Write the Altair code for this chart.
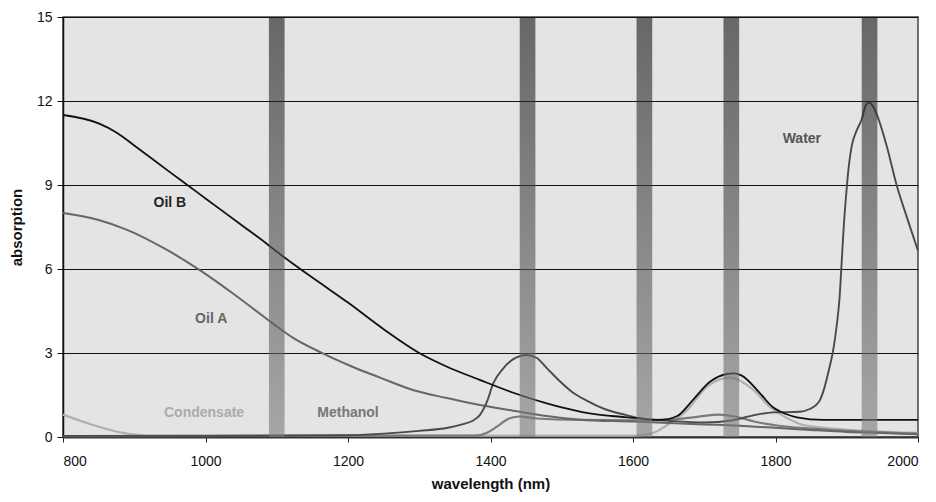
import altair as alt
import pandas as pd

# ---- data ----
oil_b_nm = [800, 850, 876, 900, 950, 974, 1000, 1050, 1088, 1100, 1133, 1161, 1200, 1250, 1300, 1339, 1385,
            1432, 1479, 1500, 1535, 1570, 1605, 1638, 1662, 1684, 1708, 1732, 1742, 1752, 1778, 1796, 1815, 1830,
            1867, 1950, 2000]
oil_b_val = [11.5, 11.2, 10.86, 10.41, 9.46, 9.01, 8.52, 7.58, 6.86, 6.62, 6.0, 5.5, 4.8, 3.85, 3.0, 2.51, 2.04,
             1.58, 1.2, 1.06, 0.86, 0.75, 0.68, 0.61, 0.75, 1.32, 1.97, 2.25, 2.27, 2.2, 1.57, 1.07, 0.82, 0.7,
             0.61, 0.61, 0.61]

oil_a_nm = [800, 850, 890, 946, 992, 1040, 1088, 1123, 1161, 1207, 1245, 1291, 1339, 1385, 1432, 1479, 1526,
            1600, 1650, 1700, 1750, 1800, 1850, 1900, 1950, 2000]
oil_a_val = [8.0, 7.75, 7.4, 6.68, 5.96, 5.1, 4.18, 3.54, 3.03, 2.5, 2.12, 1.68, 1.39, 1.14, 0.94, 0.75, 0.62,
             0.55, 0.5, 0.45, 0.4, 0.33, 0.25, 0.18, 0.14, 0.1]

water_nm = [800, 1000, 1200, 1250, 1300, 1340, 1360, 1375, 1385, 1395, 1404, 1418, 1432, 1451, 1465, 1479, 1497,
            1515, 1535, 1560, 1591, 1610, 1650, 1700, 1740, 1770, 1796, 1834, 1848, 1856, 1862, 1868, 1875, 1881,
            1886, 1890, 1893, 1896, 1900, 1903, 1907, 1914, 1921, 1926, 1931, 1937, 1944, 1956, 1970, 1985, 2000]
water_val = [0.04, 0.04, 0.06, 0.12, 0.22, 0.33, 0.45, 0.58, 0.78, 1.26, 1.92, 2.45, 2.78, 2.93, 2.82, 2.46, 2.0,
             1.6, 1.3, 1.0, 0.78, 0.66, 0.58, 0.52, 0.6, 0.78, 0.88, 0.9, 1.0, 1.12, 1.3, 1.7, 2.4, 3.1,
             4.0, 5.0, 6.3, 7.6, 8.9, 9.7, 10.4, 10.95, 11.35, 11.8, 11.95, 11.8, 11.4, 10.4, 9.0, 7.8, 6.65]

methanol_nm = [800, 1380, 1395, 1409, 1427, 1441, 1465, 1526, 1600, 1650, 1690, 1720, 1745, 1770, 1800, 1850,
               1900, 1950, 2000]
methanol_val = [0.03, 0.05, 0.15, 0.37, 0.67, 0.73, 0.66, 0.61, 0.6, 0.62, 0.72, 0.8, 0.72, 0.55, 0.42, 0.3,
                0.22, 0.17, 0.12]

condensate_nm = [800, 842, 884, 920, 1600, 1625, 1652, 1676, 1704, 1736, 1769, 1792, 1816, 1839, 1909, 2000]
condensate_val = [0.8, 0.43, 0.15, 0.05, 0.05, 0.12, 0.5, 0.96, 1.8, 2.12, 1.68, 1.08, 0.68, 0.43, 0.25, 0.15]

band_start = [1089, 1441, 1605, 1727, 1921]
band_end = [1111, 1463, 1627, 1749, 1943]

label_text = ["Oil B", "Oil A", "Condensate", "Methanol", "Water"]
label_nm = [950, 1008, 998, 1200, 1837]
label_val = [8.36, 4.2, 0.86, 0.86, 10.64]
label_color = ["#222222", "#666666", "#aaaaaa", "#777777", "#555555"]

series_names = ["Condensate", "Methanol", "Oil A", "Water", "Oil B"]
series_colors = ["#b0b0b0", "#7a7a7a", "#666666", "#4a4a4a", "#111111"]
series_widths = [2.2, 1.8, 1.8, 1.8, 2.0]

# ---- tables ----
rows = []
for name, xs, ys in [("Condensate", condensate_nm, condensate_val),
                     ("Methanol", methanol_nm, methanol_val),
                     ("Oil A", oil_a_nm, oil_a_val),
                     ("Water", water_nm, water_val),
                     ("Oil B", oil_b_nm, oil_b_val)]:
    for i, (x, y) in enumerate(zip(xs, ys)):
        rows.append({"series": name, "nm": x, "val": y, "order": i})
lines_df = pd.DataFrame(rows)

bands_df = pd.DataFrame({"x0": band_start, "x1": band_end, "y0": [0] * 5, "y1": [15] * 5})
labels_df = pd.DataFrame({"text": label_text, "nm": label_nm, "val": label_val, "color": label_color})

FONT = "Liberation Sans"

xscale = alt.Scale(domain=[800, 2000], nice=False, zero=False)
yscale = alt.Scale(domain=[0, 15], nice=False)

x_axis = alt.Axis(values=[800, 1000, 1200, 1400, 1600, 1800, 2000], format="d", title="wavelength (nm)",
                  grid=False, domainColor="#333333", domainWidth=2, tickColor="#222222", tickSize=5,
                  labelPadding=12, labelFontSize=14, labelColor="#111111", labelFont=FONT,
                  titleFont=FONT, titleFontSize=15, titleFontWeight="bold", titleColor="#111111",
                  titlePadding=8)
y_axis = alt.Axis(values=[0, 3, 6, 9, 12, 15], title="absorption", grid=True, gridColor="#111111",
                  gridWidth=1.2, domainColor="#111111", domainWidth=1.5, tickColor="#111111", tickSize=6,
                  labelPadding=5, labelFontSize=14, labelColor="#111111", labelFont=FONT,
                  titleFont=FONT, titleFontSize=15, titleFontWeight="bold", titleColor="#111111",
                  titlePadding=12)

base_lines = alt.Chart(lines_df).mark_line(interpolate="monotone").encode(
    x=alt.X("nm:Q", scale=xscale, axis=x_axis),
    y=alt.Y("val:Q", scale=yscale, axis=y_axis),
    color=alt.Color("series:N", scale=alt.Scale(domain=series_names, range=series_colors), legend=None),
    strokeWidth=alt.StrokeWidth("series:N", scale=alt.Scale(domain=series_names, range=series_widths),
                                legend=None),
    detail="series:N",
    order="order:Q",
)

bands = alt.Chart(bands_df).mark_rect(
    color=alt.Gradient(gradient="linear", x1=0, x2=0, y1=0, y2=1,
                       stops=[alt.GradientStop(color="#141414", offset=0),
                              alt.GradientStop(color="#7d7d7d", offset=1)]),
    opacity=0.6,
).encode(
    x=alt.X("x0:Q", scale=xscale), x2="x1:Q",
    y=alt.Y("y1:Q", scale=yscale), y2="y0:Q",
)

labels = alt.Chart(labels_df).mark_text(font=FONT, fontSize=14, fontWeight="bold").encode(
    x=alt.X("nm:Q", scale=xscale),
    y=alt.Y("val:Q", scale=yscale),
    text="text:N",
    color=alt.Color("color:N", scale=None),
)

chart = alt.layer(base_lines, bands, labels).properties(
    width=855, height=420,
    autosize=alt.AutoSizeParams(type="none"),
    padding={"left": 55, "top": 9, "right": 10, "bottom": 57},
    background="white",
).configure_view(
    fill="#e4e4e4", stroke="#444444", strokeWidth=1.5,
)

chart.save("out.html", embed_options={"renderer": "svg", "actions": False})
